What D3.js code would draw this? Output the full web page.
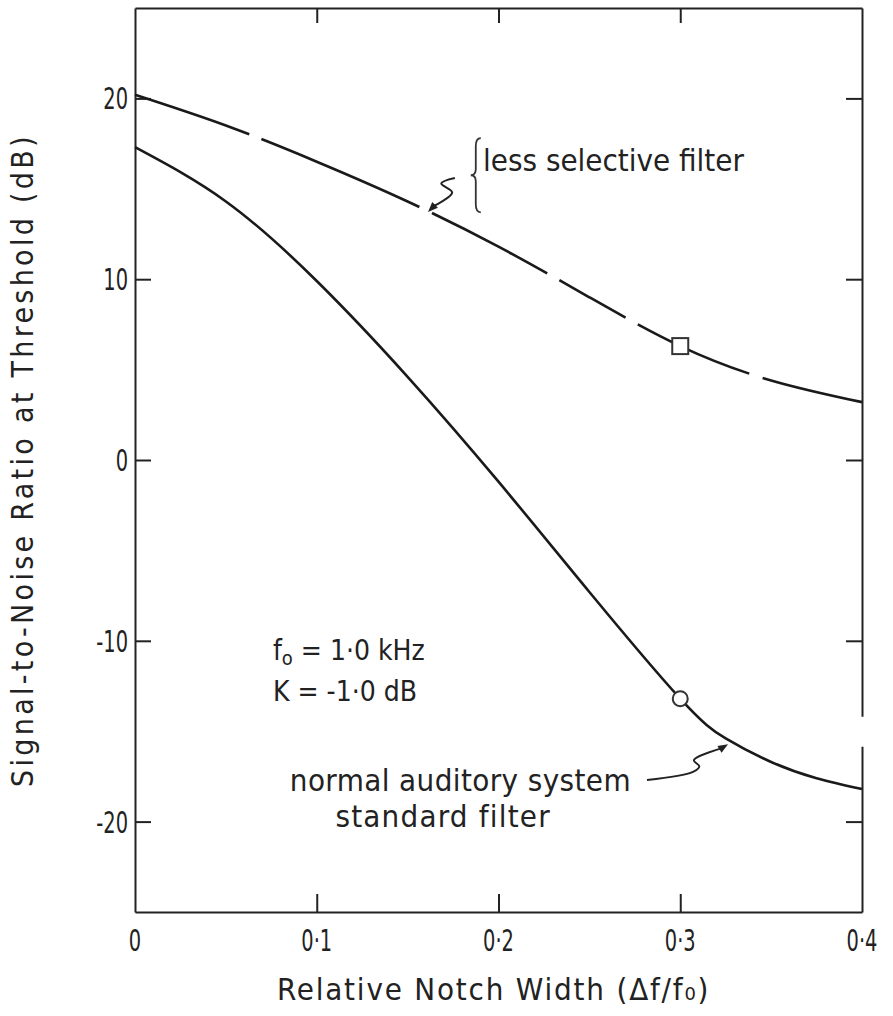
<!DOCTYPE html>
<html>
<head>
<meta charset="utf-8">
<script src="https://cdn.jsdelivr.net/npm/d3@7"></script>
<style>
  body { margin: 0; background: #fff; }
  text { font-family: "DejaVu Sans Condensed", "DejaVu Sans", sans-serif; fill: #222; }
</style>
</head>
<body>
<script>
// data
var notchWidth = [0, 0.05, 0.1, 0.15, 0.2, 0.25, 0.3, 0.35, 0.4];
var lessSelective = [20.2, 18.5, 16.5, 14.3, 11.8, 9.0, 6.3, 4.4, 3.2];
var normalX = [0, 0.05, 0.1, 0.15, 0.2, 0.25, 0.3, 0.325, 0.35, 0.375, 0.4];
var normalSystem = [17.3, 14.3, 9.9, 4.6, -1.2, -7.3, -13.2, -15.4, -16.7, -17.6, -18.2];
var xTicks = [0, 0.1, 0.2, 0.3, 0.4];
var xTickLabels = ["0", "0·1", "0·2", "0·3", "0·4"];
var yTicks = [-20, -10, 0, 10, 20];
var yTickLabels = ["-20", "-10", "0", "10", "20"];
var squarePoint = [0.3, 6.3];
var circlePoint = [0.3, -13.2];

var margin = {top: 8, right: 31, bottom: 104, left: 135},
    width = 893 - margin.left - margin.right,
    height = 1016 - margin.top - margin.bottom;

var svg = d3.select("body").append("svg")
  .attr("width", 893)
  .attr("height", 1016);

var g = svg.append("g")
  .attr("transform", "translate(" + margin.left + "," + margin.top + ")");

var x = d3.scaleLinear().domain([0, 0.4]).range([0, width]);
var y = d3.scaleLinear().domain([-25, 25]).range([height, 0]);

// frame with inward ticks on all four sides
function styleAxis(sel) {
  sel.selectAll("path").attr("stroke", "#222").attr("stroke-width", 2);
  sel.selectAll("line").attr("stroke", "#222").attr("stroke-width", 2);
  sel.selectAll("text").remove();
}
g.append("g").attr("transform", "translate(0," + height + ")")
  .call(d3.axisBottom(x).tickValues([0.1, 0.2, 0.3]).tickSizeInner(-18).tickSizeOuter(0)).call(styleAxis);
g.append("g")
  .call(d3.axisTop(x).tickValues([0.1, 0.2, 0.3]).tickSizeInner(-15).tickSizeOuter(0)).call(styleAxis);
g.append("g")
  .call(d3.axisLeft(y).tickValues(yTicks).tickSizeInner(-16).tickSizeOuter(0)).call(styleAxis);
g.append("g").attr("transform", "translate(" + width + ",0)")
  .call(d3.axisRight(y).tickValues(yTicks).tickSizeInner(-16).tickSizeOuter(0)).call(styleAxis);

// small break in the right edge of the scan
g.append("rect")
  .attr("x", width - 3).attr("y", y(-14.2))
  .attr("width", 6).attr("height", 30)
  .attr("fill", "#fff");

// tick labels (narrow lettering)
g.selectAll(".xl").data(xTicks).enter().append("text")
  .attr("transform", d => "translate(" + x(d) + "," + (height + 39) + ") scale(0.72,1)")
  .attr("text-anchor", "middle")
  .attr("font-size", 30)
  .text((d, i) => xTickLabels[i]);

g.selectAll(".yl").data(yTicks).enter().append("text")
  .attr("transform", d => "translate(-7," + (y(d) + 11) + ") scale(0.72,1)")
  .attr("text-anchor", "end")
  .attr("font-size", 30)
  .text((d, i) => yTickLabels[i]);

// axis titles
svg.append("text")
  .attr("x", margin.left + x(0.2) - 5).attr("y", 1000)
  .attr("text-anchor", "middle")
  .attr("font-size", 31)
  .attr("letter-spacing", 1.8)
  .text("Relative Notch Width (Δf/f₀)");

svg.append("text")
  .attr("transform", "translate(33," + (margin.top + y(0)) + ") rotate(-90)")
  .attr("text-anchor", "middle")
  .attr("font-size", 30)
  .attr("letter-spacing", 3.3)
  .text("Signal-to-Noise Ratio at Threshold (dB)");

// curves
var line = d3.line()
  .x(d => x(d[0]))
  .y(d => y(d[1]))
  .curve(d3.curveNatural);

g.append("path")
  .datum(notchWidth.map((v, i) => [v, lessSelective[i]]))
  .attr("d", line)
  .attr("fill", "none")
  .attr("stroke", "#1a1a1a")
  .attr("stroke-width", 2.6)
  .attr("stroke-dasharray", "121 13 172 14 130 14 76 14 122 14 300");

g.append("path")
  .datum(normalX.map((v, i) => [v, normalSystem[i]]))
  .attr("d", line)
  .attr("fill", "none")
  .attr("stroke", "#1a1a1a")
  .attr("stroke-width", 2.6);

// markers
g.append("rect")
  .attr("x", x(squarePoint[0]) - 8).attr("y", y(squarePoint[1]) - 8)
  .attr("width", 16).attr("height", 16)
  .attr("fill", "#fff").attr("stroke", "#333").attr("stroke-width", 2);

g.append("circle")
  .attr("cx", x(circlePoint[0])).attr("cy", y(circlePoint[1]))
  .attr("r", 7.5)
  .attr("fill", "#fff").attr("stroke", "#333").attr("stroke-width", 2);

// annotations
var plain = d3.line().x(d => x(d[0])).y(d => y(d[1])).curve(d3.curveCatmullRom);

var upperSquiggle = [[0.176, 15.6], [0.1685, 15.3], [0.1745, 14.8], [0.1645, 14.05]];
var lowerSquiggle = [[0.2817, -17.7], [0.307, -17.25], [0.3105, -16.95], [0.3075, -16.6], [0.3225, -15.95]];

function squiggle(pts, tip) {
  g.append("path").attr("d", plain(pts))
    .attr("fill", "none").attr("stroke", "#222").attr("stroke-width", 2);
  var a = pts[pts.length - 1];
  var ax = x(a[0]), ay = y(a[1]), tx = x(tip[0]), ty = y(tip[1]);
  var ang = Math.atan2(ty - ay, tx - ax);
  var L = 10, W = 4;
  var bx = tx - L * Math.cos(ang), by = ty - L * Math.sin(ang);
  g.append("path")
    .attr("d", "M" + tx + "," + ty +
      "L" + (bx + W * Math.sin(ang)) + "," + (by - W * Math.cos(ang)) +
      "L" + (bx - W * Math.sin(ang)) + "," + (by + W * Math.cos(ang)) + "Z")
    .attr("fill", "#222");
  g.append("line").attr("x1", ax).attr("y1", ay).attr("x2", bx).attr("y2", by)
    .attr("stroke", "#222").attr("stroke-width", 2);
}
squiggle(upperSquiggle, [0.1612, 13.72]);
squiggle(lowerSquiggle, [0.3263, -15.72]);

// brace
var bx0 = x(0.1875), btop = y(17.8), bbot = y(13.7), bmid = y(15.75);
g.append("path")
  .attr("d", "M" + (bx0 + 5) + "," + btop +
    " Q" + (bx0) + "," + btop + " " + bx0 + "," + (btop + 8) +
    " L" + bx0 + "," + (bmid - 6) +
    " Q" + bx0 + "," + bmid + " " + (bx0 - 5) + "," + bmid +
    " Q" + bx0 + "," + bmid + " " + bx0 + "," + (bmid + 6) +
    " L" + bx0 + "," + (bbot - 8) +
    " Q" + bx0 + "," + bbot + " " + (bx0 + 5) + "," + bbot)
  .attr("fill", "none").attr("stroke", "#333").attr("stroke-width", 1.8);

g.append("text")
  .attr("x", x(0.1915)).attr("y", y(16.0))
  .attr("font-size", 31)
  .text("less selective filter");

g.append("text")
  .attr("x", x(0.2817) - 16).attr("y", y(-17.75) + 10)
  .attr("text-anchor", "end")
  .attr("font-size", 31)
  .attr("letter-spacing", 0.4)
  .text("normal auditory system");

g.append("text")
  .attr("x", x(0.1103)).attr("y", y(-19.75) + 10)
  .attr("font-size", 31)
  .attr("letter-spacing", 1.2)
  .text("standard filter");

var note1 = g.append("text")
  .attr("x", x(0.0759)).attr("y", y(-10.5) + 10)
  .attr("font-size", 28);
note1.append("tspan").text("f");
note1.append("tspan").attr("font-size", 20).attr("dy", 5).text("o");
note1.append("tspan").attr("dy", -5).text(" = 1·0 kHz");

g.append("text")
  .attr("x", x(0.0759)).attr("y", y(-12.8) + 10)
  .attr("font-size", 28)
  .text("K = -1·0 dB");
</script>
</body>
</html>
